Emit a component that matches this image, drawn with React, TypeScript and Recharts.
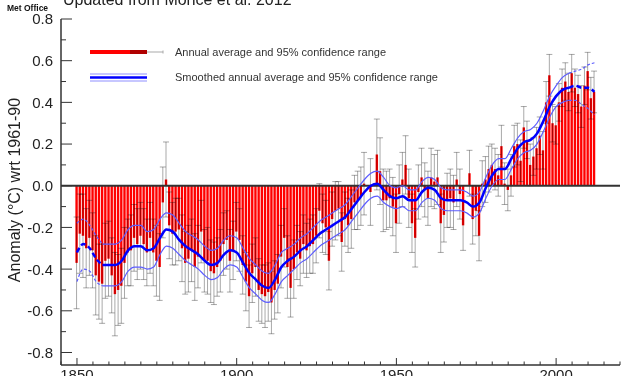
import { ComposedChart, Bar, Line, XAxis, YAxis, ErrorBar, ReferenceLine } from "recharts";

const FIRST_YEAR = 1850;

// annual SST anomaly (°C wrt 1961-90), 1850..2012
const anomaly = [
  -0.37, -0.23, -0.24, -0.30, -0.25, -0.31, -0.43, -0.46, -0.47, -0.36,
  -0.35, -0.43, -0.52, -0.50, -0.48, -0.37, -0.32, -0.31, -0.25, -0.28,
  -0.24, -0.28, -0.32, -0.25, -0.32, -0.36, -0.39, -0.08, 0.03, -0.19,
  -0.23, -0.22, -0.21, -0.30, -0.37, -0.35, -0.31, -0.39, -0.34, -0.22,
  -0.36, -0.36, -0.41, -0.42, -0.39, -0.36, -0.28, -0.26, -0.36, -0.31,
  -0.22, -0.26, -0.38, -0.46, -0.53, -0.42, -0.39, -0.50, -0.52, -0.53,
  -0.51, -0.56, -0.50, -0.47, -0.34, -0.25, -0.39, -0.49, -0.40, -0.32,
  -0.35, -0.28, -0.31, -0.29, -0.28, -0.24, -0.12, -0.18, -0.20, -0.36,
  -0.16, -0.12, -0.11, -0.27, -0.16, -0.19, -0.16, -0.08, -0.07, -0.05,
  0.01, 0.00, -0.03, 0.00, 0.15, 0.07, -0.07, -0.07, -0.06, -0.10,
  -0.18, -0.04, 0.03, 0.10, -0.06, -0.18, -0.25, -0.03, 0.04, -0.02,
  -0.06, 0.04, 0.02, 0.04, -0.18, -0.14, -0.07, -0.06, -0.08, 0.03,
  -0.04, -0.19, 0.00, 0.06, -0.16, -0.12, -0.24, 0.01, 0.03, 0.08,
  0.10, 0.08, 0.05, 0.19, 0.01, -0.02, 0.05, 0.19, 0.20, 0.12,
  0.28, 0.22, 0.10, 0.14, 0.18, 0.24, 0.17, 0.40, 0.53, 0.30,
  0.29, 0.40, 0.47, 0.50, 0.45, 0.54, 0.47, 0.44, 0.38, 0.48,
  0.55, 0.42, 0.45,
];

// half width of the 95% range, same years
const uncertainty = [
  0.22, 0.19, 0.20, 0.19, 0.18, 0.18, 0.19, 0.18, 0.19, 0.18,
  0.18, 0.18, 0.20, 0.17, 0.18, 0.17, 0.16, 0.17, 0.16, 0.17,
  0.16, 0.17, 0.16, 0.17, 0.16, 0.17, 0.16, 0.17, 0.18, 0.16,
  0.15, 0.16, 0.15, 0.16, 0.15, 0.16, 0.15, 0.16, 0.15, 0.15,
  0.15, 0.16, 0.15, 0.15, 0.14, 0.15, 0.15, 0.14, 0.15, 0.14,
  0.14, 0.15, 0.14, 0.14, 0.15, 0.14, 0.14, 0.15, 0.14, 0.15,
  0.14, 0.15, 0.14, 0.14, 0.15, 0.14, 0.15, 0.14, 0.14, 0.13,
  0.13, 0.14, 0.13, 0.13, 0.14, 0.13, 0.13, 0.14, 0.13, 0.14,
  0.13, 0.14, 0.13, 0.14, 0.13, 0.13, 0.14, 0.13, 0.14, 0.14,
  0.15, 0.16, 0.16, 0.17, 0.17, 0.16, 0.15, 0.14, 0.14, 0.14,
  0.14, 0.14, 0.13, 0.14, 0.14, 0.14, 0.14, 0.13, 0.14, 0.13,
  0.13, 0.14, 0.13, 0.13, 0.14, 0.13, 0.13, 0.14, 0.13, 0.13,
  0.12, 0.12, 0.12, 0.11, 0.12, 0.12, 0.12, 0.11, 0.11, 0.11,
  0.10, 0.10, 0.10, 0.10, 0.10, 0.10, 0.10, 0.10, 0.10, 0.10,
  0.10, 0.09, 0.10, 0.09, 0.10, 0.09, 0.09, 0.10, 0.10, 0.09,
  0.09, 0.09, 0.09, 0.09, 0.09, 0.09, 0.09, 0.09, 0.10, 0.09,
  0.09, 0.10, 0.10,
];

// smoothed curve and its 95% range, read every 2 years
const smoothYears = [
  1850, 1852, 1854, 1856, 1858, 1860, 1862, 1864, 1866, 1868,
  1870, 1872, 1874, 1876, 1878, 1880, 1882, 1884, 1886, 1888,
  1890, 1892, 1894, 1896, 1898, 1900, 1902, 1904, 1906, 1908,
  1910, 1912, 1914, 1916, 1918, 1920, 1922, 1924, 1926, 1928,
  1930, 1932, 1934, 1936, 1938, 1940, 1942, 1944, 1946, 1948,
  1950, 1952, 1954, 1956, 1958, 1960, 1962, 1964, 1966, 1968,
  1970, 1972, 1974, 1976, 1978, 1980, 1982, 1984, 1986, 1988,
  1990, 1992, 1994, 1996, 1998, 2000, 2002, 2004, 2006, 2008,
  2010, 2012,
];
const smooth = [
  -0.32, -0.28, -0.30, -0.35, -0.38, -0.38, -0.38, -0.36, -0.31, -0.29,
  -0.29, -0.31, -0.30, -0.25, -0.21, -0.22, -0.26, -0.29, -0.31, -0.33,
  -0.36, -0.38, -0.37, -0.33, -0.31, -0.32, -0.37, -0.42, -0.45, -0.48,
  -0.49, -0.45, -0.39, -0.36, -0.34, -0.31, -0.29, -0.26, -0.23, -0.21,
  -0.19, -0.17, -0.15, -0.11, -0.07, -0.03, 0.00, 0.01, -0.02, -0.05,
  -0.06, -0.05, -0.07, -0.07, -0.03, -0.01, -0.02, -0.06, -0.07, -0.07,
  -0.07, -0.08, -0.10, -0.08, -0.01, 0.05, 0.08, 0.08, 0.13, 0.18,
  0.21, 0.22, 0.25, 0.31, 0.38, 0.43, 0.46, 0.47, 0.48, 0.47,
  0.47, 0.45,
];
const smoothLo = [
  -0.46, -0.40, -0.41, -0.46, -0.48, -0.48, -0.48, -0.46, -0.41, -0.39,
  -0.39, -0.40, -0.39, -0.33, -0.29, -0.30, -0.33, -0.36, -0.38, -0.40,
  -0.43, -0.45, -0.44, -0.40, -0.38, -0.39, -0.44, -0.49, -0.52, -0.55,
  -0.56, -0.52, -0.46, -0.43, -0.40, -0.37, -0.35, -0.32, -0.29, -0.27,
  -0.25, -0.23, -0.21, -0.17, -0.13, -0.09, -0.06, -0.05, -0.08, -0.10,
  -0.11, -0.10, -0.12, -0.12, -0.08, -0.06, -0.07, -0.11, -0.12, -0.12,
  -0.12, -0.13, -0.15, -0.13, -0.06, 0.00, 0.03, 0.03, 0.08, 0.13,
  0.16, 0.17, 0.20, 0.26, 0.33, 0.38, 0.40, 0.41, 0.41, 0.39,
  0.37, 0.34,
];
const smoothHi = [
  -0.18, -0.16, -0.19, -0.24, -0.28, -0.28, -0.28, -0.26, -0.21, -0.19,
  -0.19, -0.22, -0.21, -0.16, -0.13, -0.14, -0.18, -0.22, -0.24, -0.26,
  -0.29, -0.31, -0.30, -0.26, -0.24, -0.25, -0.30, -0.35, -0.38, -0.41,
  -0.42, -0.38, -0.32, -0.30, -0.28, -0.25, -0.23, -0.20, -0.17, -0.15,
  -0.13, -0.11, -0.09, -0.05, -0.01, 0.03, 0.06, 0.07, 0.04, 0.00,
  -0.01, 0.00, -0.02, -0.02, 0.02, 0.04, 0.03, -0.01, -0.02, -0.02,
  -0.02, -0.03, -0.05, -0.03, 0.04, 0.10, 0.13, 0.13, 0.18, 0.23,
  0.26, 0.27, 0.30, 0.36, 0.43, 0.48, 0.52, 0.54, 0.55, 0.56,
  0.58, 0.59,
];
// the smoothed curve is dashed before / after these years
const DASH_UNTIL = 1858;
const DASH_FROM = 2004;

const xTicks = [
  1845, 1850, 1855, 1860, 1865, 1870, 1875, 1880, 1885, 1890, 1895, 1900,
  1905, 1910, 1915, 1920, 1925, 1930, 1935, 1940, 1945, 1950, 1955, 1960,
  1965, 1970, 1975, 1980, 1985, 1990, 1995, 2000, 2005, 2010, 2015, 2020,
];
const xLabels = [1850, 1900, 1950, 2000];
const yTicks = [
  -0.8, -0.7, -0.6, -0.5, -0.4, -0.3, -0.2, -0.1, 0, 0.1, 0.2, 0.3, 0.4, 0.5, 0.6, 0.7, 0.8,
];

const rows = anomaly.map((v, i) => {
  const year = FIRST_YEAR + i;
  const row: Record<string, number> = { year, anomaly: v, unc: uncertainty[i] };
  const k = smoothYears.indexOf(year);
  if (k >= 0) {
    const segs: string[] = [];
    if (year <= DASH_UNTIL) segs.push("S");
    if (year >= DASH_UNTIL && year <= DASH_FROM) segs.push("M");
    if (year >= DASH_FROM) segs.push("E");
    segs.forEach((s) => {
      row["mid" + s] = smooth[k];
      row["lo" + s] = smoothLo[k];
      row["hi" + s] = smoothHi[k];
    });
  }
  return row;
});

const AXIS = "#333";
const FONT = "'Liberation Sans', Arial, Helvetica, sans-serif";
const BAND = "#5c5cff";

const isMajorX = (v: number) => xLabels.includes(v);
const isMajorY = (v: number) => Math.abs(Math.round(v * 10)) % 2 === 0;

const BottomTick = (p: any) => {
  const v = p.payload.value;
  const axisY = p.y - 4;
  const major = isMajorX(v);
  return (
    <g>
      <line x1={p.x} x2={p.x} y1={axisY} y2={axisY - (major ? 7 : 3.5)} stroke={AXIS} />
      {major && (
        <text x={p.x} y={p.y} dy="0.75em" textAnchor="middle" fontSize={15} fill="#222" fontFamily={FONT}>
          {v}
        </text>
      )}
    </g>
  );
};

const TopTick = (p: any) => {
  const major = isMajorX(p.payload.value);
  return <line x1={p.x} x2={p.x} y1={p.y} y2={p.y + (major ? 7 : 3.5)} stroke={AXIS} />;
};

const LeftTick = (p: any) => {
  const v = p.payload.value;
  const axisX = p.x + 8;
  const major = isMajorY(v);
  return (
    <g>
      <line x1={axisX} x2={axisX + (major ? 11 : 5)} y1={p.y} y2={p.y} stroke={AXIS} />
      {major && (
        <text x={p.x} y={p.y} dy="0.36em" textAnchor="end" fontSize={15} fill="#222" fontFamily={FONT}>
          {v.toFixed(1)}
        </text>
      )}
    </g>
  );
};

const RightTick = (p: any) => {
  const major = isMajorY(p.payload.value);
  return <line x1={p.x} x2={p.x - (major ? 11 : 5)} y1={p.y} y2={p.y} stroke={AXIS} />;
};

const segments = [
  { s: "S", dashMain: "5 3", dashBand: "3 2" },
  { s: "M", dashMain: undefined, dashBand: undefined },
  { s: "E", dashMain: "5 3", dashBand: "3 2" },
];

export default function App() {
  return (
    <div style={{ position: "absolute", left: 0, top: 0, width: 627, height: 376, background: "#fff", fontFamily: FONT }}>
      <style>{`.recharts-errorBar line, .recharts-errorBars line { mix-blend-mode: multiply; }`}</style>
      <ComposedChart
        width={627}
        height={376}
        data={rows}
        margin={{ top: 19, right: 7, bottom: 0, left: 0 }}
      >
        <XAxis
          xAxisId="main"
          dataKey="year"
          type="number"
          domain={[1845, 2020]}
          allowDataOverflow
          ticks={xTicks}
          interval={0}
          height={11}
          tickSize={0}
          tickMargin={4}
          tickLine={false}
          axisLine={{ stroke: AXIS, strokeWidth: 1.5 }}
          tick={(p: any) => <BottomTick {...p} />}
        />
        <XAxis
          xAxisId="top"
          orientation="top"
          dataKey="year"
          type="number"
          domain={[1845, 2020]}
          allowDataOverflow
          ticks={xTicks}
          interval={0}
          height={0}
          tickSize={0}
          tickMargin={0}
          tickLine={false}
          axisLine={{ stroke: AXIS, strokeWidth: 1.5 }}
          tick={(p: any) => <TopTick {...p} />}
        />
        <YAxis
          yAxisId="main"
          type="number"
          domain={[-0.86, 0.8]}
          allowDataOverflow
          ticks={yTicks}
          interval={0}
          width={61}
          tickSize={0}
          tickMargin={8}
          tickLine={false}
          axisLine={{ stroke: AXIS, strokeWidth: 1.5 }}
          tick={(p: any) => <LeftTick {...p} />}
        />
        <YAxis
          yAxisId="right"
          orientation="right"
          type="number"
          domain={[-0.86, 0.8]}
          allowDataOverflow
          ticks={yTicks}
          interval={0}
          width={0}
          tickSize={0}
          tickMargin={0}
          tickLine={false}
          axisLine={{ stroke: AXIS, strokeWidth: 1.5 }}
          tick={(p: any) => <RightTick {...p} />}
        />
        <Bar
          xAxisId="main"
          yAxisId="main"
          dataKey="anomaly"
          fill="#ff0000"
          barSize={2.4}
          isAnimationActive={false}
        >
          <ErrorBar dataKey="unc" direction="y" width={3} stroke="#a9a9a9" strokeWidth={1} isAnimationActive={false} />
        </Bar>
        <ReferenceLine xAxisId="main" yAxisId="main" y={0} stroke="#333" strokeWidth={2} />
        {segments.flatMap(({ s, dashMain, dashBand }) => [
          <Line
            key={"lo" + s}
            xAxisId="main"
            yAxisId="main"
            type="monotone"
            dataKey={"lo" + s}
            stroke={BAND}
            strokeWidth={1.2}
            strokeDasharray={dashBand}
            dot={false}
            activeDot={false}
            connectNulls
            isAnimationActive={false}
          />,
          <Line
            key={"hi" + s}
            xAxisId="main"
            yAxisId="main"
            type="monotone"
            dataKey={"hi" + s}
            stroke={BAND}
            strokeWidth={1.2}
            strokeDasharray={dashBand}
            dot={false}
            activeDot={false}
            connectNulls
            isAnimationActive={false}
          />,
          <Line
            key={"mid" + s}
            xAxisId="main"
            yAxisId="main"
            type="monotone"
            dataKey={"mid" + s}
            stroke="#0000ff"
            strokeWidth={2.5}
            strokeDasharray={dashMain}
            dot={false}
            activeDot={false}
            connectNulls
            isAnimationActive={false}
          />,
        ])}
      </ComposedChart>

      <svg
        width={627}
        height={376}
        style={{ position: "absolute", left: 0, top: 0, pointerEvents: "none" }}
      >
        <text x={63} y={5} fontSize={16} fill="#222" fontFamily={FONT}>
          Updated from Morice et al. 2012
        </text>
        <text x={7} y={10.5} fontSize={8.5} fontWeight="bold" fill="#111" fontFamily={FONT}>
          Met Office
        </text>
        <text
          x={0}
          y={0}
          transform="translate(20,190) rotate(-90)"
          textAnchor="middle"
          fontSize={16}
          fill="#222"
          fontFamily={FONT}
        >
          Anomaly (°C) wrt 1961-90
        </text>

        <rect x={90} y={50} width={40} height={4} fill="#ff0000" />
        <rect x={130} y={50} width={17} height={4} fill="#b00000" />
        <line x1={147} x2={163} y1={52} y2={52} stroke="#a9a9a9" />
        <line x1={163} x2={163} y1={50.5} y2={53.5} stroke="#a9a9a9" />
        <text x={175} y={52} dy="0.36em" fontSize={11} fill="#333" fontFamily={FONT}>
          Annual average and 95% confidence range
        </text>

        <line x1={90} x2={147} y1={74} y2={74} stroke="#8f8fff" />
        <line x1={90} x2={147} y1={81} y2={81} stroke="#8f8fff" />
        <line x1={90} x2={147} y1={77.5} y2={77.5} stroke="#0000ff" strokeWidth={2.5} />
        <text x={175} y={77.5} dy="0.36em" fontSize={11} fill="#333" fontFamily={FONT}>
          Smoothed annual average and 95% confidence range
        </text>
      </svg>
    </div>
  );
}
